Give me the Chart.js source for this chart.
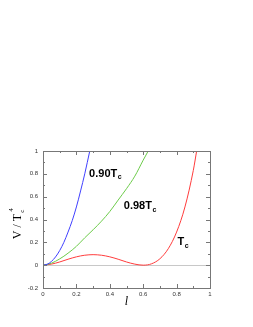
<!DOCTYPE html>
<html>
<head>
<meta charset="utf-8">
<script src="https://cdn.jsdelivr.net/npm/chart.js@4"></script>
<style>
  html, body { margin: 0; padding: 0; background: #fff; }
  #wrap { width: 253px; height: 327px; }
</style>
</head>
<body>
<div id="wrap"><canvas id="c" width="253" height="327"></canvas></div>
<script>
// values (l, V/Tc^4)
const lBlue = [0, 0.025, 0.05, 0.075, 0.1, 0.125, 0.15, 0.175, 0.2, 0.225, 0.25, 0.28]
const vBlue = [0, 0.008, 0.032, 0.072, 0.128, 0.2, 0.29, 0.39, 0.51, 0.65, 0.8, 1.0]

const lGreen = [0, 0.05, 0.1, 0.15, 0.2, 0.25, 0.3, 0.35, 0.4, 0.45, 0.5, 0.55, 0.6, 0.63]
const vGreen = [0, 0.017, 0.055, 0.105, 0.165, 0.24, 0.31, 0.385, 0.47, 0.57, 0.67, 0.78, 0.92, 1.0]

const lRed = [0, 0.05, 0.1, 0.15, 0.2, 0.25, 0.3, 0.35, 0.4, 0.45, 0.5, 0.55, 0.6, 0.65, 0.7, 0.75, 0.8, 0.85, 0.9, 0.92]
const vRed = [0, 0.009, 0.028, 0.052, 0.073, 0.087, 0.092, 0.087, 0.073, 0.052, 0.028, 0.009, 0, 0.012, 0.056, 0.144, 0.29, 0.51, 0.83, 1.0]

const xTicks = [0, 0.2, 0.4, 0.6, 0.8, 1]
const yTicks = [-0.2, 0, 0.2, 0.4, 0.6, 0.8, 1]

// curve labels: [main text, subscript, l, V] (baseline position)
const curveLabels = [
	['0.90T', 'c', 0.276, 0.775],
	['0.98T', 'c', 0.484, 0.49],
	['T', 'c', 0.806, 0.173],
]

const pts = (xs, ys) => xs.map((x, i) => ({ x, y: ys[i] }))

const frame = {
	id: 'frame',
	beforeDatasetsDraw(chart) {
		const { ctx, chartArea: a, scales: { y } } = chart
		ctx.save()
		ctx.strokeStyle = '#c8c8c8'
		ctx.lineWidth = 1
		const y0 = Math.round(y.getPixelForValue(0)) + 0.5
		ctx.beginPath()
		ctx.moveTo(a.left, y0)
		ctx.lineTo(a.right, y0)
		ctx.stroke()
		ctx.restore()
	},
	afterDraw(chart) {
		const { ctx, chartArea: a, scales: { x, y } } = chart
		ctx.save()
		ctx.strokeStyle = '#777'
		ctx.lineWidth = 1
		ctx.strokeRect(Math.round(a.left) + 0.5, Math.round(a.top) + 0.5,
			Math.round(a.right - a.left), Math.round(a.bottom - a.top))

		// inward ticks, majors every 0.2, minors every 0.1
		ctx.beginPath()
		for (let k = 0; k <= 10; k++) {
			const v = k / 10
			const len = k % 2 === 0 ? 4 : 2
			const px = Math.round(x.getPixelForValue(v)) + 0.5
			ctx.moveTo(px, a.bottom); ctx.lineTo(px, a.bottom - len)
			ctx.moveTo(px, a.top); ctx.lineTo(px, a.top + len)
		}
		for (let k = -2; k <= 10; k++) {
			const v = k / 10
			const len = k % 2 === 0 ? 4 : 2
			const py = Math.round(y.getPixelForValue(v)) + 0.5
			ctx.moveTo(a.left, py); ctx.lineTo(a.left + len, py)
			ctx.moveTo(a.right, py); ctx.lineTo(a.right - len, py)
		}
		ctx.stroke()

		// curve labels
		ctx.fillStyle = '#000'
		ctx.textBaseline = 'alphabetic'
		curveLabels.forEach(([main, sub, lv, vv]) => {
			const px = x.getPixelForValue(lv)
			const py = y.getPixelForValue(vv)
			ctx.font = 'bold 11px "Liberation Sans", Arial, sans-serif'
			ctx.textAlign = 'left'
			ctx.fillText(main, px, py)
			const w = ctx.measureText(main).width
			ctx.font = 'bold 7px "Liberation Sans", Arial, sans-serif'
			ctx.fillText(sub, px + w + 0.5, py + 2.5)
		})

		// axis titles
		ctx.font = 'italic 12px "Liberation Serif", "Times New Roman", serif'
		ctx.textAlign = 'center'
		ctx.fillText('l', (a.left + a.right) / 2, 305)

		ctx.translate(20.5, (a.top + a.bottom) / 2 + 3)
		ctx.rotate(-Math.PI / 2)
		ctx.textAlign = 'left'
		ctx.font = '12px "Liberation Serif", "Times New Roman", serif'
		const t1 = 'V / T'
		const w1 = ctx.measureText(t1).width
		const start = -(w1 + 8) / 2
		ctx.fillText(t1, start, 0)
		ctx.font = '7px "Liberation Serif", "Times New Roman", serif'
		ctx.fillText('c', start + w1 + 1, 3)
		ctx.fillText('4', start + w1 + 2, -8)
		ctx.restore()
	},
}

new Chart(document.getElementById('c'), {
	type: 'line',
	data: {
		datasets: [
			{ data: pts(lBlue, vBlue), borderColor: '#4040ff' },
			{ data: pts(lGreen, vGreen), borderColor: '#6ccb4a' },
			{ data: pts(lRed, vRed), borderColor: '#ff3c3c' },
		],
	},
	options: {
		responsive: false,
		animation: false,
		events: [],
		layout: { padding: { left: 0, top: 151, right: 43, bottom: 0 } },
		elements: {
			point: { radius: 0 },
			line: { borderWidth: 1, cubicInterpolationMode: 'monotone', fill: false },
		},
		plugins: { legend: { display: false }, tooltip: { enabled: false } },
		scales: {
			x: {
				type: 'linear',
				min: 0,
				max: 1,
				afterFit: (s) => { s.height = 39 },
				afterBuildTicks: (s) => { s.ticks = xTicks.map((value) => ({ value })) },
				grid: { display: false, drawTicks: false },
				border: { display: false },
				ticks: {
					padding: 3,
					maxRotation: 0,
					color: '#333',
					font: { size: 6, family: '"Liberation Sans", Arial, sans-serif' },
					callback: (v) => String(v),
				},
			},
			y: {
				min: -0.2,
				max: 1,
				afterFit: (s) => { s.width = 43 },
				afterBuildTicks: (s) => { s.ticks = yTicks.map((value) => ({ value })) },
				grid: { display: false, drawTicks: false },
				border: { display: false },
				ticks: {
					padding: 5,
					color: '#333',
					font: { size: 6, family: '"Liberation Sans", Arial, sans-serif' },
					callback: (v) => String(Math.round(v * 10) / 10),
				},
			},
		},
	},
	plugins: [frame],
})
</script>
</body>
</html>
